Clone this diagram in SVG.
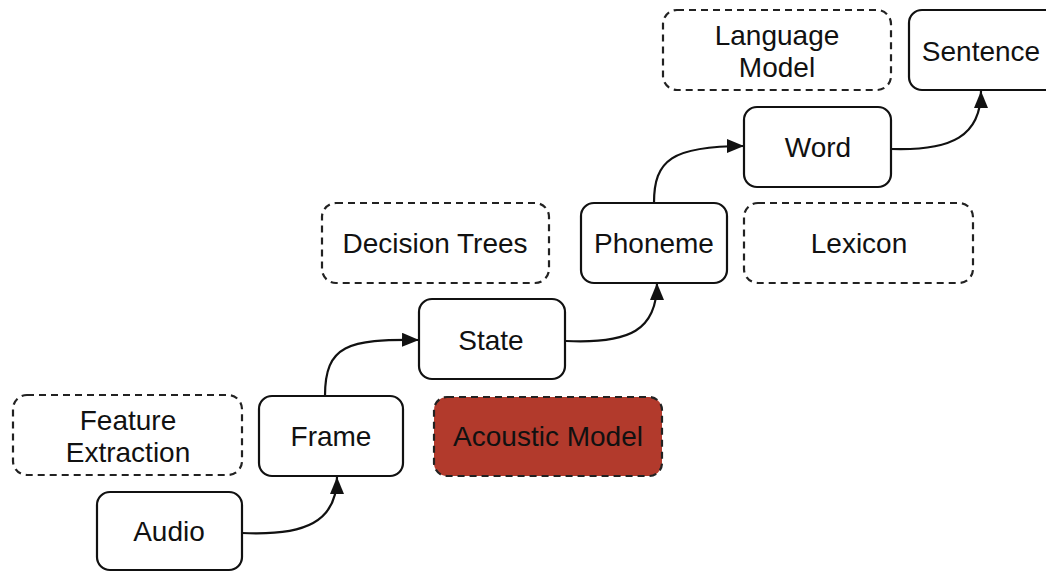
<svg xmlns="http://www.w3.org/2000/svg" width="1046" height="575" viewBox="0 0 1046 575">
<defs>
<style>
.box{fill:#fff;stroke:#111;stroke-width:2.2}
.dash{fill:none;stroke:#222;stroke-width:2.2;stroke-dasharray:7 5}
.red{fill:#b23a2c;stroke:#222;stroke-width:2.2;stroke-dasharray:7 5}
.t{font-family:"Liberation Sans",Arial,sans-serif;font-size:28px;fill:#111;text-anchor:middle}
.c{fill:none;stroke:#111;stroke-width:2.2}
</style>
<marker id="ah" markerUnits="userSpaceOnUse" markerWidth="18" markerHeight="14" refX="17" refY="7" orient="auto">
<path d="M0,0 L17,7 L0,14 z" fill="#111"/>
</marker>
</defs>
<rect width="1046" height="575" fill="#fff"/>
<g id="connectors">
<path class="c" d="M242,533 C305,536 337,522 337,477" marker-end="url(#ah)"/>
<path class="c" d="M325,396 C325,345 348,339 419,340" marker-end="url(#ah)"/>
<path class="c" d="M566,341 C630,344 657,330 657,283" marker-end="url(#ah)"/>
<path class="c" d="M654,203 C654,160 672,146 744,146" marker-end="url(#ah)"/>
<path class="c" d="M891,149 C952,151 981,136 981,91" marker-end="url(#ah)"/>
</g>
<g id="feature-extraction"><rect class="dash" x="13" y="395" width="229" height="80" rx="14"/><text class="t" x="128" y="430">Feature</text><text class="t" x="128" y="462">Extraction</text></g>
<g id="audio"><rect class="box" x="97" y="492" width="145" height="78" rx="13"/><text class="t" x="169" y="541">Audio</text></g>
<g id="frame"><rect class="box" x="259" y="396" width="144" height="80" rx="13"/><text class="t" x="331" y="446">Frame</text></g>
<g id="acoustic-model"><rect class="red" x="434" y="397" width="228" height="79" rx="13"/><text class="t" x="548" y="446">Acoustic Model</text></g>
<g id="state"><rect class="box" x="419" y="299" width="146" height="80" rx="13"/><text class="t" x="491" y="350">State</text></g>
<g id="decision-trees"><rect class="dash" x="322" y="203" width="227" height="80" rx="14"/><text class="t" x="435" y="253">Decision Trees</text></g>
<g id="phoneme"><rect class="box" x="581" y="203" width="146" height="80" rx="13"/><text class="t" x="654" y="253">Phoneme</text></g>
<g id="lexicon"><rect class="dash" x="744" y="203" width="229" height="80" rx="14"/><text class="t" x="859" y="253">Lexicon</text></g>
<g id="word"><rect class="box" x="744" y="107" width="147" height="80" rx="13"/><text class="t" x="818" y="157">Word</text></g>
<g id="language-model"><rect class="dash" x="663" y="10" width="228" height="80" rx="14"/><text class="t" x="777" y="45">Language</text><text class="t" x="777" y="77">Model</text></g>
<g id="sentence"><rect class="box" x="909" y="10" width="150" height="80" rx="13"/><text class="t" x="981" y="61">Sentence</text></g>
</svg>
